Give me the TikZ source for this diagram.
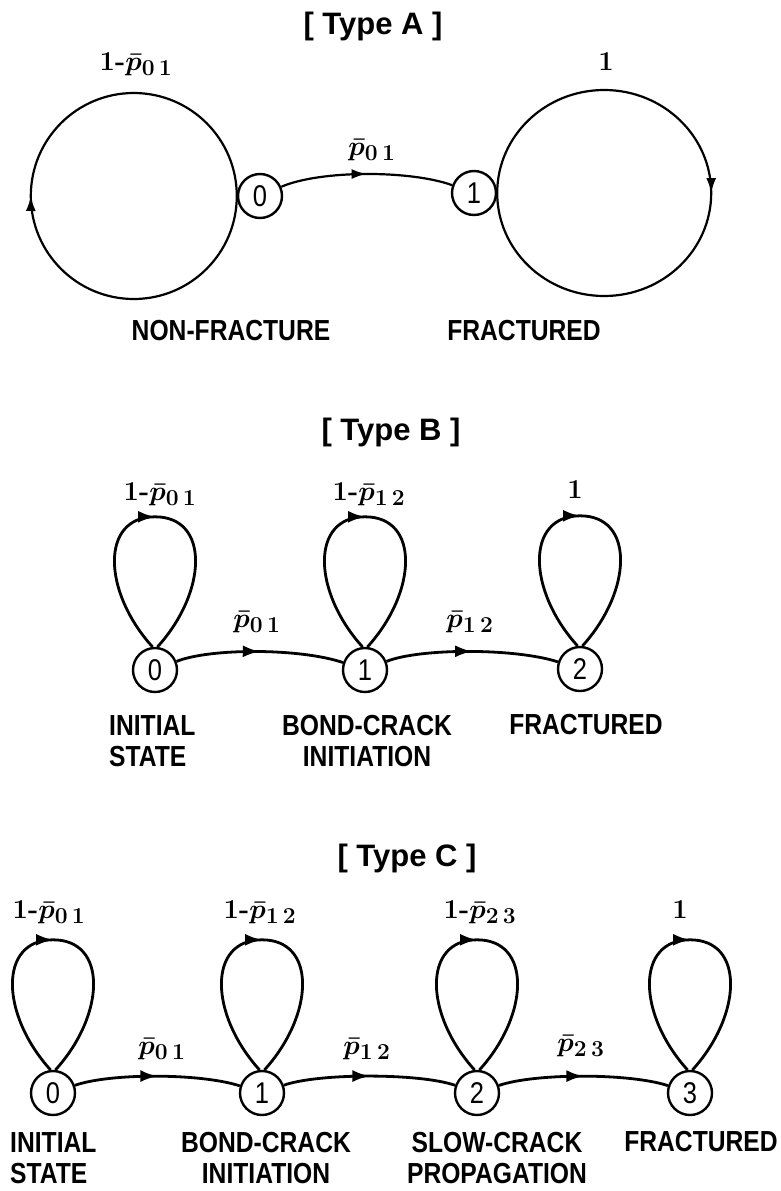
\documentclass[tikz,border=0pt]{standalone}
\usepackage[no-math]{fontspec}
\usetikzlibrary{arrows.meta,decorations.markings,calc}
\newfontfamily\labfont[FakeStretch=0.85]{Liberation Sans}
\newfontfamily\titlefont{Liberation Sans}
\tikzset{
  every node/.style={inner sep=0pt},
  state/.style={draw, circle, line width=2.4pt, minimum size=44pt, font=\labfont\fontsize{30}{32}\selectfont},
  lab/.style={font=\labfont\bfseries\fontsize{29}{31}\selectfont, align=center},
  ttl/.style={font=\titlefont\bfseries\fontsize{31}{36}\selectfont},
  prob/.style={font=\fontsize{24.88}{30}\selectfont\boldmath, scale=1.1, transform shape},
  midarrow/.style={postaction={decorate}, decoration={markings, mark=at position #1 with {\arrow{Latex[length=17pt,width=12pt]}}}},
  midarrow/.default=0.5,
  midarrowA/.style={postaction={decorate}, decoration={markings, mark=at position #1 with {\arrow{Latex[length=15pt,width=10pt]}}}},
  midarrowA/.default=0.5,
  conn/.style={line width=2.8pt},
  connA/.style={line width=2.2pt},
}
\newcommand\hy{\mbox{\bfseries -}}
\newcommand\selfloop[1]{%
  \draw[conn, midarrow=0.5] (#1.96) .. controls +(-50,-55) and +(-55,0) .. ($(#1.north)+(0,-130)$) .. controls +(55,0) and +(50,-55) .. (#1.84);}
\begin{document}
\begin{tikzpicture}[x=1pt,y=-1pt]
\useasboundingbox (0,0) rectangle (780,1191);

% ---------------- Type A ----------------
\node[ttl] (tA) at (373,26) {[ Type A ]};
\node[state] (a0) at (260,196) {0};
\node[state] (a1) at (474,193) {1};
\draw[connA, midarrowA] (a0.west) arc[start angle=0, end angle=-360, radius=103pt];
\draw[connA, midarrowA] (a1.east) arc[start angle=180, end angle=-180, x radius=107pt, y radius=103pt];
\draw[connA, midarrowA] (a0) .. controls (320,170) and (410,170) .. (a1);
\node[prob] (pa0) at (136,64) {$1\hy\bar{p}_{0\,1}$};
\node[prob] (pa1) at (606,62) {$1$};
\node[prob] (ea01) at (372,150) {$\bar{p}_{0\,1}$};
\node[lab] (la0) at (231,331) {NON-FRACTURE};
\node[lab] (la1) at (524,331) {FRACTURED};

% ---------------- Type B ----------------
\node[ttl] (tB) at (391,432) {[ Type B ]};
\node[state] (b0) at (155,670) {0};
\node[state] (b1) at (365,670) {1};
\node[state] (b2) at (580,669) {2};
\selfloop{b0}
\selfloop{b1}
\selfloop{b2}
\draw[conn, midarrow] (b0) .. controls (210,648) and (300,648) .. (b1);
\draw[conn, midarrow] (b1) .. controls (420,648) and (515,648) .. (b2);
\node[prob] (pb0) at (160,494) {$1\hy\bar{p}_{0\,1}$};
\node[prob] (pb1) at (369,494) {$1\hy\bar{p}_{1\,2}$};
\node[prob] (pb2) at (575,490) {$1$};
\node[prob] (eb01) at (257,622) {$\bar{p}_{0\,1}$};
\node[prob] (eb12) at (470,622) {$\bar{p}_{1\,2}$};
\node[lab, align=left, anchor=west] (lb0) at (109,741) {INITIAL\\STATE};
\node[lab] (lb1) at (367,741) {BOND-CRACK\\INITIATION};
\node[lab] (lb2) at (586,725) {FRACTURED};

% ---------------- Type C ----------------
\node[ttl] (tC) at (407,858) {[ Type C ]};
\node[state] (c0) at (53,1093) {0};
\node[state] (c1) at (262,1093) {1};
\node[state] (c2) at (477,1093) {2};
\node[state] (c3) at (690,1093) {3};
\selfloop{c0}
\selfloop{c1}
\selfloop{c2}
\selfloop{c3}
\draw[conn, midarrow] (c0) .. controls (110,1073) and (200,1073) .. (c1);
\draw[conn, midarrow] (c1) .. controls (318,1073) and (420,1073) .. (c2);
\draw[conn, midarrow] (c2) .. controls (535,1073) and (630,1073) .. (c3);
\node[prob] (pc0) at (49,912) {$1\hy\bar{p}_{0\,1}$};
\node[prob] (pc1) at (260,912) {$1\hy\bar{p}_{1\,2}$};
\node[prob] (pc2) at (480,912) {$1\hy\bar{p}_{2\,3}$};
\node[prob] (pc3) at (680,910) {$1$};
\node[prob] (ec01) at (162,1049) {$\bar{p}_{0\,1}$};
\node[prob] (ec12) at (367,1049) {$\bar{p}_{1\,2}$};
\node[prob] (ec23) at (581,1046) {$\bar{p}_{2\,3}$};
\node[lab, align=left, anchor=west] (lc0) at (10,1158) {INITIAL\\STATE};
\node[lab] (lc1) at (266,1158) {BOND-CRACK\\INITIATION};
\node[lab] (lc2) at (497,1158) {SLOW-CRACK\\PROPAGATION};
\node[lab] (lc3) at (701,1142) {FRACTURED};
\end{tikzpicture}
\end{document}
